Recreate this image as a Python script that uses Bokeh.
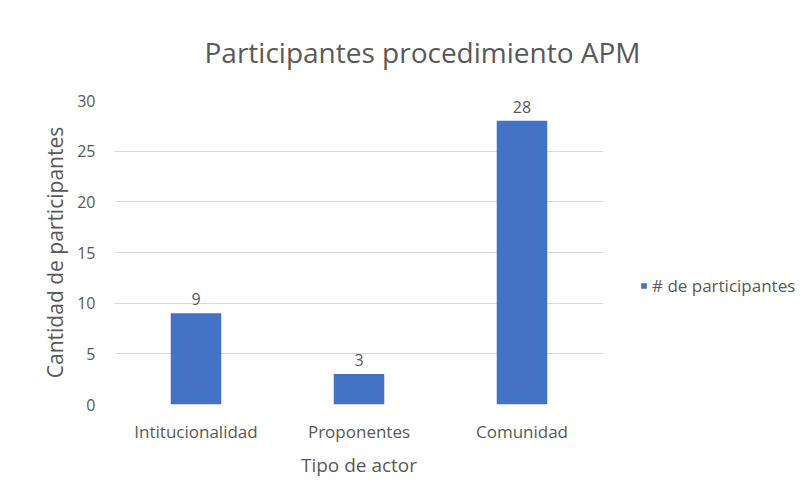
from bokeh.plotting import figure
from bokeh.models import ColumnDataSource, Legend, LegendItem, FactorRange
from bokeh.core.properties import value
from bokeh.embed import file_html
from bokeh.resources import INLINE

categories = ["Intitucionalidad", "Proponentes", "Comunidad"]
participantes = [9, 3, 28]
y_ticks = [0, 5, 10, 15, 20, 25, 30]
series_name = "# de participantes"
chart_title = "Participantes procedimiento APM"

FONT = "Open Sans"
GREY = "#595959"
BAR = "#4472C4"

src = ColumnDataSource(dict(cat=categories, val=participantes,
                            lab=[str(v) for v in participantes]))

p = figure(x_range=FactorRange(*categories, range_padding=0), y_range=(0, 30),
           frame_width=489, frame_height=304, output_backend="svg",
           toolbar_location=None,
           min_border_left=114, min_border_right=200, min_border_top=100,
           min_border_bottom=90, title=chart_title)
p.outline_line_color = None
p.xgrid.grid_line_color = None
p.ygrid.grid_line_color = "#d9d9d9"
p.ygrid.grid_line_width = 1

p.title.align = "left"
p.title.offset = 90
p.title.text_color = GREY
p.title.text_font = FONT
p.title.text_font_style = "normal"
p.title.text_font_size = "28px"
p.title.standoff = 60

r = p.vbar(x="cat", top="val", width=0.31, source=src, color=BAR, line_color=None)
p.text(x="cat", y="val", text="lab", source=src, text_align="center",
       text_baseline="alphabetic", y_offset=-14, text_color=GREY,
       text_font=value(FONT), text_font_size="16px")

for ax in (p.xaxis[0], p.yaxis[0]):
    ax.axis_line_color = None
    ax.major_tick_line_color = None
    ax.minor_tick_line_color = None
    ax.major_label_text_color = GREY
    ax.major_label_text_font = FONT
    ax.axis_label_text_color = GREY
    ax.axis_label_text_font = FONT
    ax.axis_label_text_font_style = "normal"

p.yaxis.ticker = y_ticks
p.yaxis.major_label_text_font_size = "16px"
p.yaxis.major_label_standoff = 13
p.yaxis.axis_label = "Cantidad de participantes"
p.yaxis.axis_label_text_font_size = "21px"
p.yaxis.axis_label_standoff = 5
p.xaxis.major_label_text_font_size = "17px"
p.xaxis.major_label_standoff = 9
p.xaxis.axis_label = "Tipo de actor"
p.xaxis.axis_label_text_font_size = "19px"
p.xaxis.axis_label_standoff = 6

legend = Legend(items=[LegendItem(label=series_name, renderers=[r])],
                location=(37, 107), border_line_color=None,
                background_fill_alpha=0, glyph_width=7, glyph_height=7,
                label_standoff=5, label_text_color=GREY, label_text_font=FONT,
                label_text_font_size="17px", padding=0, margin=0)
p.add_layout(legend, "right")

open("out.html", "w").write(file_html(p, INLINE))
